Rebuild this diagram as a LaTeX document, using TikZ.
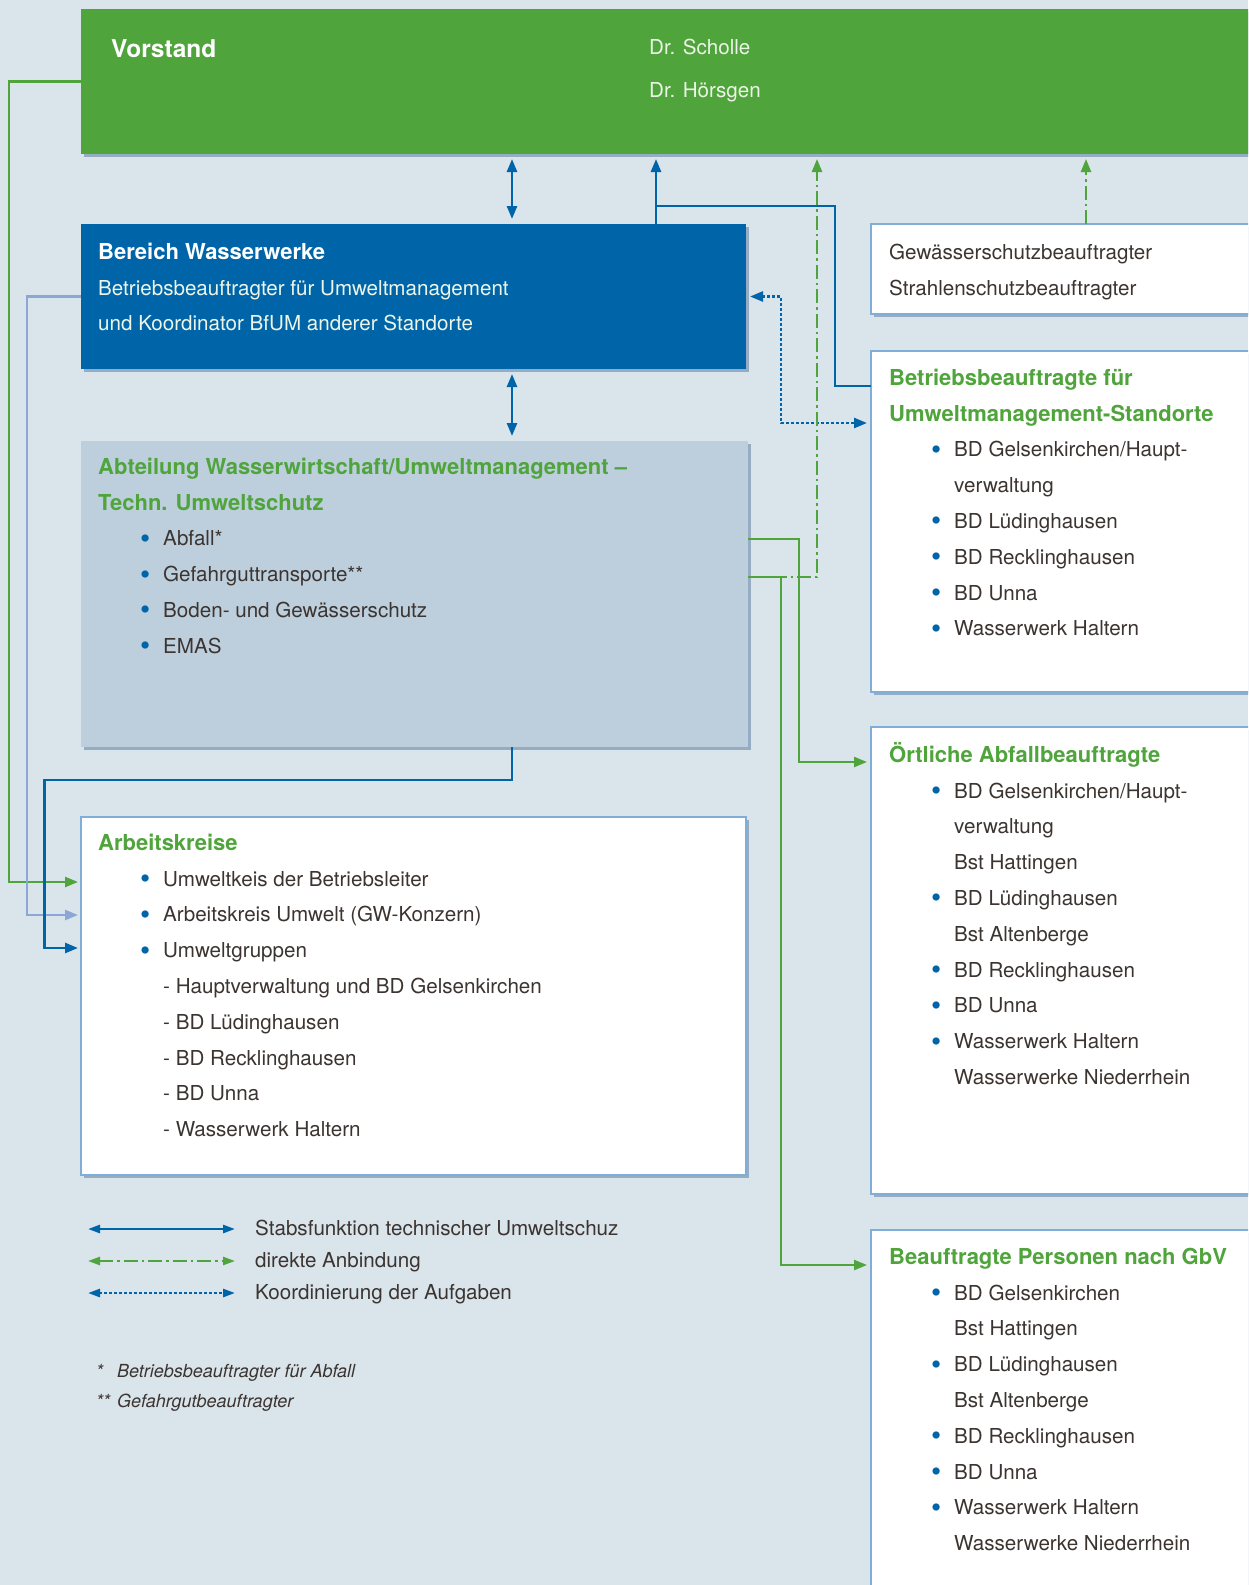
\documentclass[tikz,border=0pt]{standalone}
\usepackage{fontspec}
\setmainfont{TeX Gyre Heros}
\usepackage{xcolor}
\definecolor{wwBack}{RGB}{217,228,235}
\definecolor{wwGreen}{RGB}{80,164,60}
\definecolor{wwBlue}{RGB}{0,101,168}
\definecolor{wwSteel}{RGB}{189,207,221}
\definecolor{wwLight}{RGB}{140,166,214}
\definecolor{wwFrame}{RGB}{128,174,214}
\definecolor{wwShadow}{RGB}{150,172,194}
\definecolor{wwText}{RGB}{60,52,48}
\definecolor{wwPale}{RGB}{236,245,232}
\usetikzlibrary{arrows.meta,shadows}

\newcommand\bitem{\hspace*{42pt}\makebox[23pt][l]{\raisebox{-2.5pt}{\fontsize{29}{30}\selectfont\textcolor{wwBlue}{\textbullet}}}}
\newcommand\cont{\hspace*{65pt}}
\newcommand\hb{\fontsize{22}{35.8}\selectfont\bfseries}
\newcommand\hd[1]{{\hb\color{wwGreen}#1}}
\newcommand\fl{\rule{0pt}{24pt}}

\begin{document}
\begin{tikzpicture}[x=1pt, y=-1pt,
    >={Triangle[length=13pt,width=10pt]},
    panel/.style={anchor=north west, inner sep=0pt, outer sep=0pt,
      drop shadow={shadow xshift=2.5pt, shadow yshift=-3pt, fill=wwShadow, opacity=1}},
    greenbox/.style={panel, fill=wwGreen},
    bluebox/.style={panel, fill=wwBlue},
    steelbox/.style={panel, fill=wwSteel},
    whitebox/.style={panel, fill=white, draw=wwFrame, line width=1.2pt},
    txt/.style={anchor=north west, inner sep=0pt, align=left,
      font=\fontsize{20.6}{35.8}\selectfont, text=wwText},
    lgtext/.style={anchor=base west, inner sep=0pt,
      font=\fontsize{20.6}{35.8}\selectfont, text=wwText},
    fnote/.style={anchor=base west, inner sep=0pt,
      font=\fontsize{18}{30}\selectfont\itshape, text=wwText},
    stab/.style={draw=wwBlue, line width=2.6pt},
    direkt/.style={draw=wwGreen, line width=2.3pt,
      dash pattern=on 14pt off 4pt on 2.5pt off 4pt},
    koord/.style={draw=wwBlue, line width=2.6pt, dash pattern=on 3pt off 2pt},
    gline/.style={draw=wwGreen, line width=2.3pt},
    lline/.style={draw=wwLight, line width=2.3pt}
  ]
  \useasboundingbox (0,0) rectangle (1248,1585);
  \clip (0,0) rectangle (1248,1585);
  \fill[wwBack] (0,0) rectangle (1248,1585);

  % boxes
  \node[greenbox, minimum width=1190pt, minimum height=145pt] (vorstand) at (81,9) {};
  \node[bluebox, minimum width=665pt, minimum height=145pt] (bereich) at (81,224) {};
  \node[steelbox, minimum width=667pt, minimum height=306pt] (abteil) at (81,441) {};
  \node[whitebox, minimum width=665pt, minimum height=358pt] (arbeit) at (81,817) {};
  \node[whitebox, minimum width=400pt, minimum height=90pt] (gewaesser) at (871,224) {};
  \node[whitebox, minimum width=400pt, minimum height=341pt] (betriebs) at (871,351) {};
  \node[whitebox, minimum width=400pt, minimum height=467pt] (oertlich) at (871,727) {};
  \node[whitebox, minimum width=400pt, minimum height=380pt] (beauftragt) at (871,1230) {};

  % texts
  \node[anchor=base west, inner sep=0pt, text=white,
    font=\fontsize{24.5}{30}\selectfont\bfseries] (vorstandTxt) at (111,57) {Vorstand};
  \node[txt, text=wwPale] (namesTxt) at (649,30) {\fl Dr. Scholle\\[7.2pt]Dr. Hörsgen};
  \node[txt, text=wwPale] (bereichTxt) at (98,235)
    {\fl{\hb\color{white}Bereich Wasserwerke}\\
     Betriebsbeauftragter für Umweltmanagement\\
     und Koordinator BfUM anderer Standorte};
  \node[txt] (abteilTxt) at (98,450)
    {\fl\hd{Abteilung Wasserwirtschaft/Umweltmanagement –}\\
     \hd{Techn. Umweltschutz}\\
     \bitem Abfall*\\
     \bitem Gefahrguttransporte**\\
     \bitem Boden- und Gewässerschutz\\
     \bitem EMAS};
  \node[txt] (arbeitTxt) at (98,826)
    {\fl\hd{Arbeitskreise}\\
     \bitem Umweltkeis der Betriebsleiter\\
     \bitem Arbeitskreis Umwelt (GW-Konzern)\\
     \bitem Umweltgruppen\\
     \cont - Hauptverwaltung und BD Gelsenkirchen\\
     \cont - BD Lüdinghausen\\
     \cont - BD Recklinghausen\\
     \cont - BD Unna\\
     \cont - Wasserwerk Haltern};
  \node[txt] (gewaesserTxt) at (889,235)
    {\fl Gewässerschutzbeauftragter\\Strahlenschutzbeauftragter};
  \node[txt] (betriebsTxt) at (889,361)
    {\fl\hd{Betriebsbeauftragte für}\\
     \hd{Umweltmanagement-Standorte}\\
     \bitem BD Gelsenkirchen/Haupt-\\
     \cont verwaltung\\
     \bitem BD Lüdinghausen\\
     \bitem BD Recklinghausen\\
     \bitem BD Unna\\
     \bitem Wasserwerk Haltern};
  \node[txt] (oertlichTxt) at (889,738)
    {\fl\hd{Örtliche Abfallbeauftragte}\\
     \bitem BD Gelsenkirchen/Haupt-\\
     \cont verwaltung\\
     \cont Bst Hattingen\\
     \bitem BD Lüdinghausen\\
     \cont Bst Altenberge\\
     \bitem BD Recklinghausen\\
     \bitem BD Unna\\
     \bitem Wasserwerk Haltern\\
     \cont Wasserwerke Niederrhein};
  \node[txt] (beauftragtTxt) at (889,1240)
    {\fl\hd{Beauftragte Personen nach GbV}\\
     \bitem BD Gelsenkirchen\\
     \cont Bst Hattingen\\
     \bitem BD Lüdinghausen\\
     \cont Bst Altenberge\\
     \bitem BD Recklinghausen\\
     \bitem BD Unna\\
     \bitem Wasserwerk Haltern\\
     \cont Wasserwerke Niederrhein};

  % bends of the connectors
  \coordinate (colA) at (512,0);
  \coordinate (colB) at (656,0);
  \coordinate (colC) at (835,0);
  \coordinate (colD) at (781,0);
  \coordinate (colE) at (817,0);
  \coordinate (colF) at (1086,0);
  \coordinate (colG) at (799,0);
  \coordinate (colJ) at (9,0);
  \coordinate (colK) at (27,0);
  \coordinate (colL) at (44.5,0);
  \coordinate (rowB) at (0,206);
  \coordinate (rowC) at (0,386);
  \coordinate (rowD) at (0,423);
  \coordinate (rowE) at (0,577);
  \coordinate (rowG) at (0,539);
  \coordinate (rowH) at (0,762);
  \coordinate (rowI) at (0,1265);
  \coordinate (rowJ) at (0,882);
  \coordinate (rowK) at (0,915);
  \coordinate (rowL) at (0,780);
  \coordinate (rowM) at (0,948);

  % connectors
  \draw[stab, <->, shorten <=5pt, shorten >=5pt] (colA |- vorstand.south) -- (colA |- bereich.north);
  \draw[stab, <->, shorten <=5pt, shorten >=5pt] (colA |- bereich.south) -- (colA |- abteil.north);
  \draw[stab, ->, shorten >=5pt] (colB |- bereich.north) -- (colB |- vorstand.south);
  \draw[stab] (colB |- rowB) -| (colC |- rowC) -- (betriebs.west |- rowC);
  \draw[koord, <->, shorten <=4pt, shorten >=4pt] (bereich.east) -| (colD |- rowD) -- (betriebs.west |- rowD);
  \draw[gline, ->, shorten >=4pt] (abteil.east |- rowG) -| (colG |- rowH) -- (oertlich.west |- rowH);
  \draw[gline, ->, shorten >=4pt] (abteil.east |- rowE) -| (colD |- rowI) -- (beauftragt.west |- rowI);
  \draw[direkt, ->, shorten >=5pt] (abteil.east |- rowE) -| (colE |- vorstand.south);
  \draw[direkt, ->, shorten >=5pt] (gewaesser.north -| colF) -- (colF |- vorstand.south);
  \draw[gline, ->, shorten >=3pt] (vorstand.west) -| (colJ |- rowJ) -- (arbeit.west |- rowJ);
  \draw[lline, ->, shorten >=3pt] (bereich.west) -| (colK |- rowK) -- (arbeit.west |- rowK);
  \draw[stab, ->, shorten >=3pt] (abteil.south -| colA) -- (colA |- rowL) -| (colL |- rowM) -- (arbeit.west |- rowM);

  % legend
  \foreach \st/\yy/\txt in {stab/1229/Stabsfunktion technischer Umweltschuz,
      direkt/1261/direkte Anbindung, koord/1293/Koordinierung der Aufgaben}{
    \coordinate (l\st a) at (88,\yy);
    \coordinate (l\st b) at (235,\yy);
    \draw[\st, <->, >={Triangle[length=12pt,width=8pt]}] (l\st a) -- (l\st b);
    \node[lgtext] (t\st) at (255,\yy+6.5) {\txt};
  }
  \node[fnote] (fn1) at (96,1377) {\makebox[21pt][l]{*}Betriebsbeauftragter für Abfall};
  \node[fnote] (fn2) at (96,1407) {\makebox[21pt][l]{**}Gefahrgutbeauftragter};
\end{tikzpicture}
\end{document}
